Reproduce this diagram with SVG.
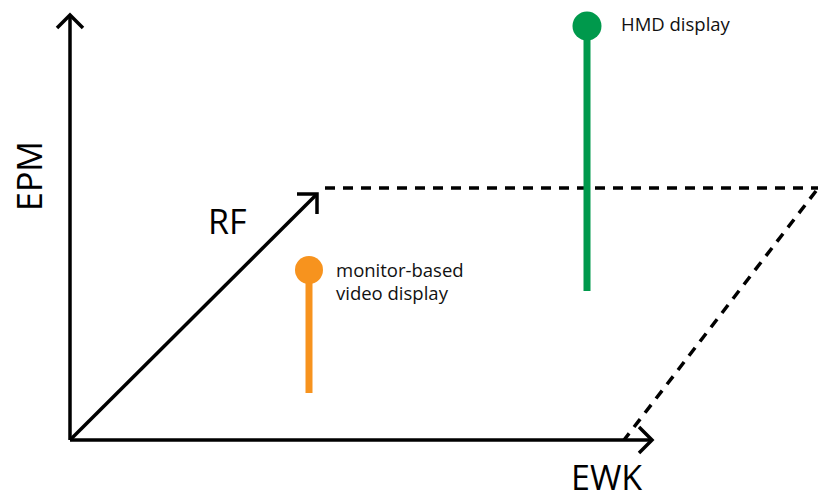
<svg xmlns="http://www.w3.org/2000/svg" width="822" height="500" viewBox="0 0 822 500">
<style>
.ax{fill:none;stroke:#000;stroke-width:3.5;stroke-linecap:butt}
.ah{fill:none;stroke:#000;stroke-width:3.5;stroke-linejoin:miter}
.dash{fill:none;stroke:#000;stroke-width:3.5;stroke-dasharray:10 8}
.big{font-family:"Open Sans","Liberation Sans",sans-serif;font-size:34px;fill:#000}
.lbl{font-family:"Open Sans","Liberation Sans",sans-serif;font-size:18.5px;fill:#111}
</style>
<rect width="822" height="500" fill="#fff"/>
<g id="connectors">
<line class="dash" x1="325" y1="188" x2="818" y2="188"/>
<line class="dash" x1="816" y1="191" x2="624" y2="440"/>
<line class="ax" x1="70" y1="440" x2="70" y2="15"/>
<polyline class="ah" points="57,28 70,15 83,28"/>
<line class="ax" x1="70" y1="440" x2="652" y2="440"/>
<polyline class="ah" points="639,427 652,440 639,453"/>
<line class="ax" x1="70" y1="440" x2="316" y2="195"/>
<polyline class="ah" points="297,194 317,194 317,214"/>
</g>
<g id="axis-epm"><text class="big" transform="translate(42,211) rotate(-90)">EPM</text></g>
<g id="axis-rf"><text class="big" x="208" y="234">RF</text></g>
<g id="axis-ewk"><text class="big" x="571" y="490" font-size="33">EWK</text></g>
<g id="hmd">
<line x1="587" y1="26" x2="587" y2="291" stroke="#00994C" stroke-width="7"/>
<circle cx="587" cy="26" r="14.5" fill="#00994C"/>
<text class="lbl" x="621" y="31" font-size="19">HMD display</text>
</g>
<g id="monitor">
<line x1="309" y1="270" x2="309" y2="393" stroke="#F7931E" stroke-width="7"/>
<circle cx="309" cy="270" r="14" fill="#F7931E"/>
<text class="lbl"><tspan x="336" y="277">monitor-based</tspan><tspan x="336" y="300">video display</tspan></text>
</g>
</svg>
